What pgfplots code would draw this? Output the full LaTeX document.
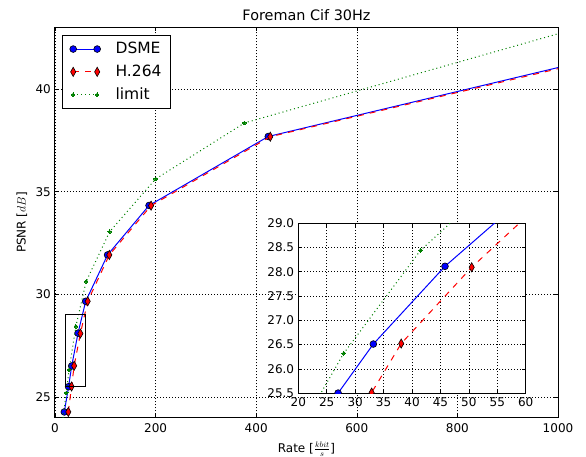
\documentclass[border=0pt]{standalone}
\usepackage{fontspec}
\setmainfont{DejaVu Sans}
\usepackage{pgfplots}
\pgfplotsset{compat=1.18}
\definecolor{mplblue}{rgb}{0,0,1}
\definecolor{mplred}{rgb}{1,0,0}
\definecolor{mplgreen}{rgb}{0,0.5,0}

\pgfplotstableread{
x y
18.5 24.27
27.0 25.50
33.2 26.51
45.8 28.11
61.0 29.66
104.5 31.92
187.0 34.33
424.0 37.69
1100.0 41.63
}\dsme
\pgfplotstableread{
x y
26.5 24.27
32.9 25.51
38.1 26.52
50.5 28.09
65.0 29.66
108.0 31.92
191.0 34.32
428.0 37.68
1100.0 41.57
}\hlong
\pgfplotstableread{
x y
16.0 23.98
22.5 25.20
28.0 26.32
41.5 28.44
62.0 30.63
108.6 33.05
200.0 35.62
376.7 38.35
1100.0 43.39
}\limit

\pgfplotsset{
  mystyle/.style={
    scale only axis,
    clip marker paths=true,
    axis line style={black, line width=1pt},
    tick style={black, line width=0.6pt},
    major tick length=4pt,
    tick align=inside,
    grid=major,
    grid style={black, line width=0.5pt, dash pattern=on 1pt off 2pt},
    tick label style={font=\fontsize{12}{14.4}\selectfont},
    /pgf/number format/assume math mode=true,
    /pgf/number format/set thousands separator={},
  },
  dsmestyle/.style={color=mplblue, line width=1pt, solid, mark=*,
    mark size=3.4pt, mark options={solid, fill=mplblue, draw=black, line width=0.6pt}},
  h264style/.style={color=mplred, line width=1pt, dash pattern=on 6pt off 6pt, mark=diamond*,
    mark size=4.6pt, mark options={solid, fill=mplred, draw=black, line width=0.6pt, xscale=0.75}},
  limitstyle/.style={color=mplgreen, line width=1pt, dash pattern=on 1pt off 3pt, mark=*,
    mark size=1.8pt, mark options={solid, fill=mplgreen, draw=mplgreen, line width=0pt}},
}

\begin{document}
\fontsize{12}{14.4}\selectfont
\begin{tikzpicture}
\useasboundingbox (-55pt,-39.3pt) rectangle (531pt,417.5pt);
\begin{axis}[
  mystyle,
  at={(0pt,0pt)}, anchor=south west,
  width=503pt, height=390pt,
  xmin=0, xmax=1000, ymin=24, ymax=43,
  xtick={0,200,400,600,800,1000},
  ytick={25,30,35,40},
  xticklabel style={yshift=-2pt},
  xlabel={Rate [$\frac{kbit}{s}$]},
  ylabel={PSNR [$dB$]},
  xlabel style={font=\fontsize{12}{14.4}\selectfont, yshift=-1pt},
  ylabel style={font=\fontsize{12}{14.4}\selectfont},
  title={Foreman Cif 30Hz},
  title style={font=\fontsize{14.4}{17}\selectfont, yshift=-3.5pt},
  legend cell align=left,
  legend image code/.code={\draw[mark repeat=2,mark phase=1,#1] plot coordinates {(0pt,0pt)(12pt,0pt)(24pt,0pt)};},
  legend style={at={(0.0145,0.981)}, anchor=north west, draw=black, line width=1pt, fill=white,
    font=\fontsize{15.5}{18}\selectfont, inner xsep=7pt, inner ysep=5pt, row sep=5.5pt,
    column sep=13pt},
]
\addplot[dsmestyle] table[x=x,y=y] {\dsme};
\addlegendentry{DSME}
\addplot[h264style] table[x=x,y=y] {\hlong};
\addlegendentry{H.264}
\addplot[limitstyle] table[x=x,y=y] {\limit};
\addlegendentry{limit}
\draw[black, line width=1pt] (axis cs:20,25.5) rectangle (axis cs:60,29);
\end{axis}

\begin{axis}[
  mystyle,
  at={(243.3pt,24.4pt)}, anchor=south west,
  width=227.4pt, height=170pt,
  axis background/.style={fill=white},
  xmin=20, xmax=60, ymin=25.5, ymax=29,
  xtick={20,25,...,60},
  ytick={25.5,26,26.5,27,27.5,28,28.5,29},
  yticklabel style={/pgf/number format/.cd, fixed, fixed zerofill, precision=1},
]
\addplot[dsmestyle] table[x=x,y=y] {\dsme};
\addplot[h264style] table[x=x,y=y] {\hlong};
\addplot[limitstyle] table[x=x,y=y] {\limit};
\end{axis}
\end{tikzpicture}
\end{document}
